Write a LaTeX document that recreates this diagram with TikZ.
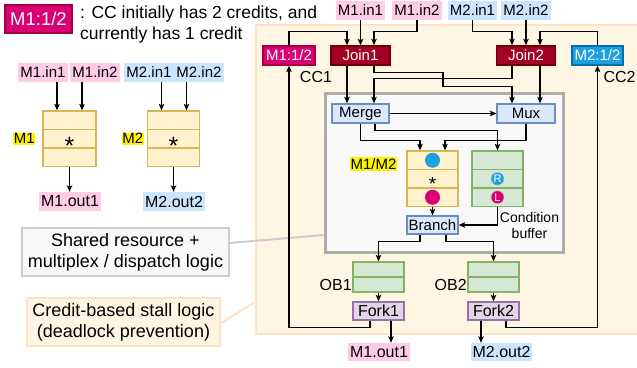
\documentclass[tikz,border=0pt]{standalone}
\usepackage{fontspec}
\setmainfont{Liberation Sans}
\usetikzlibrary{arrows.meta,calc}
\definecolor{regfill}{HTML}{FFF5E3}
\definecolor{regdraw}{HTML}{FFE2C4}
\definecolor{grayf}{HTML}{F9F9F9}
\definecolor{grayb}{HTML}{ACACAC}
\definecolor{srdraw}{HTML}{CCCCCC}
\definecolor{bfill}{HTML}{DAE8FC}
\definecolor{bdraw}{HTML}{6C8EBF}
\definecolor{yfill}{HTML}{FFF2CC}
\definecolor{ydraw}{HTML}{D6B656}
\definecolor{gfill}{HTML}{D5E8D4}
\definecolor{gdraw}{HTML}{82B366}
\definecolor{pfill}{HTML}{E1D5E7}
\definecolor{pdraw}{HTML}{9673A6}
\definecolor{jfill}{HTML}{A20025}
\definecolor{jdraw}{HTML}{6F0000}
\definecolor{mfill}{HTML}{D80073}
\definecolor{mdraw}{HTML}{A50040}
\definecolor{cfill}{HTML}{1BA1E2}
\definecolor{cdraw}{HTML}{006EAF}
\definecolor{pinkl}{HTML}{FFCCE6}
\definecolor{bluel}{HTML}{CCE5FF}
\begin{document}
\begin{tikzpicture}[x=1pt,y=-1pt,
  fa/.style={font=\fontsize{15}{17}\selectfont},
  fb/.style={font=\fontsize{16}{18}\selectfont},
  fc/.style={font=\fontsize{18}{21}\selectfont},
  boxbase/.style={draw, line width=1.3pt, inner sep=0pt, minimum height=19pt, fa},
  bluebox/.style={boxbase, fill=bfill, draw=bdraw, minimum width=57pt},
  joinbox/.style={boxbase, fill=jfill, draw=jdraw, text=white, minimum width=59pt},
  ccone/.style={boxbase, fill=mfill, draw=mdraw, text=white, minimum width=52pt},
  cctwo/.style={boxbase, fill=cfill, draw=cdraw, text=white, minimum width=51pt},
  yelrow/.style={draw=ydraw, fill=yfill, line width=1.3pt, minimum width=51pt, minimum height=18.5pt, inner sep=0pt},
  greenrow/.style={draw=gdraw, fill=gfill, line width=1.3pt, minimum width=51pt, minimum height=18.5pt, inner sep=0pt},
  obrow/.style={draw=gdraw, fill=gfill, line width=1.3pt, minimum width=51pt, minimum height=15pt, inner sep=0pt},
  forkbox/.style={boxbase, fill=pfill, draw=pdraw, minimum width=51pt, minimum height=18pt, fb},
  pinklbl/.style={fill=pinkl, inner xsep=2pt, inner ysep=0pt, minimum height=19pt, fa},
  bluelbl/.style={fill=bluel, inner xsep=2pt, inner ysep=0pt, minimum height=19pt, fa},
  hilite/.style={fill=yellow, inner xsep=0.5pt, inner ysep=1pt, fa},
  aster/.style={inner sep=0pt, font=\fontsize{25}{25}\selectfont},
  circdot/.style={circle, inner sep=0pt, minimum size=15pt},
  letterdot/.style={circle, inner sep=0pt, minimum size=13pt, draw=white!75!black, line width=0.5pt, text=white, font=\fontsize{11}{11}\selectfont},
  wire/.style={line width=1.2pt},
  arr/.style={wire, -{Stealth[length=6.5pt,width=5.5pt,inset=1.5pt]}},
  ]
\useasboundingbox (0,0) rectangle (637,367);

% background regions
\node[draw=regdraw, fill=regfill, line width=2pt, minimum width=389pt, minimum height=309pt, inner sep=0pt] (region) at (450.5,179.5) {};
\node[draw=grayb, fill=grayf, line width=3pt, minimum width=238pt, minimum height=159pt, inner sep=0pt] (shared) at (444,172.5) {};

% legend
\node[ccone, minimum width=67pt, minimum height=28pt, font=\fontsize{18.5}{20}\selectfont] (legbox) at (38.5,19) {M1:1/2};
\node[anchor=west, align=left, font=\fontsize{17.5}{21}\selectfont, inner sep=0pt] (legtxt) at (80,24.5) {: CC initially has 2 credits, and\\currently has 1 credit};

% annotations
\node[draw=srdraw, fill=grayf, line width=2pt, minimum width=207pt, minimum height=48pt, align=center, fc, inner sep=0pt] (srnote) at (125.5,252) {Shared resource +\\multiplex / dispatch logic};
\node[draw=regdraw, fill=regfill, line width=2.5pt, minimum width=193pt, minimum height=48pt, align=center, fc, inner sep=0pt] (crnote) at (123.5,322) {Credit-based stall logic\\(deadlock prevention)};
\draw[srdraw, line width=2pt] ([yshift=9pt]srnote.east) -- ([yshift=-62.5pt]shared.west);
\draw[regdraw, line width=2pt] ([yshift=-1pt]crnote.east) -- ([yshift=-122.5pt]region.west);

% left example: M1 and M2
\node[pinklbl] (lm1in1) at (43,72) {M1.in1};
\node[pinklbl] (lm1in2) at (95,72) {M1.in2};
\node[bluelbl] (lm2in1) at (149,72) {M2.in1};
\node[bluelbl] (lm2in2) at (199,72) {M2.in2};
\node[yelrow, minimum width=53pt] (lm1a) at (69.5,120.25) {};
\node[yelrow, minimum width=53pt] (lm1b) at (69.5,138.75) {};
\node[yelrow, minimum width=53pt] (lm1c) at (69.5,157.25) {};
\node[yelrow, minimum width=52pt] (lm2a) at (173.5,120.25) {};
\node[yelrow, minimum width=52pt] (lm2b) at (173.5,138.75) {};
\node[yelrow, minimum width=52pt] (lm2c) at (173.5,157.25) {};
\node[aster] (lm1star) at ([yshift=-7.4pt]lm1b.center) {*};
\node[aster] (lm2star) at ([yshift=-7.4pt]lm2b.center) {*};
\node[hilite, anchor=east] (lm1lbl) at ([xshift=-7pt]lm1b.west) {M1};
\node[hilite, anchor=east] (lm2lbl) at ([xshift=-3pt]lm2b.west) {M2};
\node[pinklbl, fb] (lm1out) at (70,201.5) {M1.out1};
\node[bluelbl, fb] (lm2out) at (174,201.5) {M2.out2};
\coordinate (lp1) at ([xshift=-12.5pt]lm1a.north);
\coordinate (lp2) at ([xshift=12.5pt]lm1a.north);
\coordinate (lp3) at ([xshift=-12pt]lm2a.north);
\coordinate (lp4) at ([xshift=13pt]lm2a.north);
\draw[arr] (lm1in1.south -| lp1) -- (lp1);
\draw[arr] (lm1in2.south -| lp2) -- (lp2);
\draw[arr] (lm2in1.south -| lp3) -- (lp3);
\draw[arr] (lm2in2.south -| lp4) -- (lp4);
\draw[arr] (lm1c.south) -- (lm1c.south |- lm1out.north);
\draw[arr] (lm2c.south) -- (lm2c.south |- lm2out.north);

% top inputs
\node[pinklbl] (m1in1) at (360.5,10.5) {M1.in1};
\node[pinklbl] (m1in2) at (417,10.5) {M1.in2};
\node[bluelbl] (m2in1) at (472.5,10.5) {M2.in1};
\node[bluelbl] (m2in2) at (526,10.5) {M2.in2};

% credit counters and joins
\node[ccone] (cc1) at (289,55.5) {M1:1/2};
\node[cctwo] (cc2) at (597.5,55.5) {M2:1/2};
\node[joinbox] (join1) at (360.5,55.5) {Join1};
\node[joinbox] (join2) at (526,55.5) {Join2};
\node[fb, inner sep=0pt] (cc1lbl) at (316,77) {CC1};
\node[fb, inner sep=0pt] (cc2lbl) at (619.5,77) {CC2};

% shared resource internals
\node[bluebox] (merge) at (360.5,113.5) {Merge};
\node[bluebox, minimum width=58pt] (mux) at (526,113.5) {Mux};
\node[yelrow] (bf1) at (432.5,160.25) {};
\node[yelrow] (bf2) at (432.5,178.75) {};
\node[yelrow] (bf3) at (432.5,197.25) {};
\node[greenrow] (cb1) at (497.5,160.25) {};
\node[greenrow] (cb2) at (497.5,178.75) {};
\node[greenrow] (cb3) at (497.5,197.25) {};
\node[circdot, fill=cfill] (bfdot1) at (bf1.center) {};
\node[circdot, fill=mfill] (bfdot3) at (bf3.center) {};
\node[aster, font=\fontsize{19}{19}\selectfont] (bfstar) at ([yshift=-5.1pt]bf2.center) {*};
\node[letterdot, fill=cfill] (cbR) at (cb2.center) {R};
\node[letterdot, fill=mfill] (cbL) at (cb3.center) {L};
\node[hilite] (bflbl) at (373.5,164) {M1/M2};
\node[boxbase, fill=bfill, draw=bdraw, minimum width=51pt, minimum height=18pt] (branch) at (432.5,225) {Branch};
\node[align=center, inner sep=0pt, font=\fontsize{14}{16}\selectfont] (cblbl) at (529.5,225) {Condition\\buffer};

% output buffers and forks
\node[obrow] (ob1a) at (378.5,269.5) {};
\node[obrow] (ob1b) at (378.5,284.5) {};
\node[obrow] (ob2a) at (493.5,269.5) {};
\node[obrow] (ob2b) at (493.5,284.5) {};
\node[fb, anchor=east, inner sep=0.5pt] (ob1lbl) at (ob1b.west) {OB1};
\node[fb, anchor=east, inner sep=0.5pt] (ob2lbl) at (ob2b.west) {OB2};
\node[forkbox] (fork1) at (378.5,311) {Fork1};
\node[forkbox] (fork2) at (493.5,311) {Fork2};
\node[pinklbl, fb, minimum height=18pt] (m1out) at (379,352) {M1.out1};
\node[bluelbl, fb, minimum height=18pt] (m2out) at (501.5,352) {M2.out2};

% ports
\coordinate (j1n1) at ([xshift=-13.5pt]join1.north);
\coordinate (j1n2) at ([xshift=13.5pt]join1.north);
\coordinate (j2n1) at ([xshift=-14pt]join2.north);
\coordinate (j2n2) at ([xshift=14pt]join2.north);
\coordinate (j1s1) at ([xshift=-13.5pt]join1.south);
\coordinate (j1s2) at ([xshift=13.5pt]join1.south);
\coordinate (j2s1) at ([xshift=-14pt]join2.south);
\coordinate (j2s2) at ([xshift=14pt]join2.south);
\coordinate (mgA) at ([xshift=-13.5pt]merge.north);
\coordinate (mgB) at ([xshift=13.5pt]merge.north);
\coordinate (mxA) at ([xshift=-14pt]mux.north);
\coordinate (mxB) at ([xshift=14pt]mux.north);
\coordinate (bfA) at ([xshift=-12.5pt]bf1.north);
\coordinate (bfB) at ([xshift=12.5pt]bf1.north);
\coordinate (f1o) at ([xshift=12.5pt]fork1.south);
\coordinate (f2o) at ([xshift=-12.5pt]fork2.south);

% top wiring
\draw[arr] (cc1.north) -- ++(0,-14) -| (j1n1);
\draw[arr] (m1in1.south) -- (join1.north);
\draw[arr] (m1in2.south) -- ++(0,11) -| (j1n2);
\draw[arr] (m2in1.south) -- ++(0,11) -| (j2n1);
\draw[arr] (m2in2.south) -- (join2.north);
\draw[arr] (cc2.north) -- ++(0,-14) -| (j2n2);

% join outputs
\draw[arr] (j1s1) -- (mgA);
\draw[arr] (j1s2) -- ++(0,7) -| ++(69,14) -| (mxA);
\draw[arr] (j2s1) -- ++(0,13) -| (mgB);
\draw[arr] (j2s2) -- (mxB);

% internals
\draw[arr] (merge.east) -- (mux.west);
\draw[arr] (merge.south) -- ++(0,16.5) -| (bfA);
\draw[arr] ([xshift=14.5pt]merge.south) -- ++(0,7) -| (cb1.north);
\draw[arr] (mux.south) -- ++(0,16.5) -| (bfB);
\draw[arr] (bf3.south) -- (branch.north);
\draw[arr] (cb3.south) |- (branch.east);
\draw[arr] ([xshift=-12.5pt]branch.south) -- ++(0,7) -| (ob1a.north);
\draw[arr] ([xshift=13.5pt]branch.south) -- ++(0,7) -| (ob2a.north);
\draw[arr] (ob1b.south) -- (fork1.north);
\draw[arr] (ob2b.south) -- (fork2.north);

% fork outputs and credit returns
\draw[arr] ([xshift=-8.5pt]fork1.south) -- ++(0,7) -| (cc1.south);
\draw[arr] (f1o) -- (f1o |- m1out.north);
\draw[arr] (f2o) -- (f2o |- m2out.north);
\draw[arr] ([xshift=12.5pt]fork2.south) -- ++(0,7) -| (cc2.south);
\end{tikzpicture}
\end{document}
